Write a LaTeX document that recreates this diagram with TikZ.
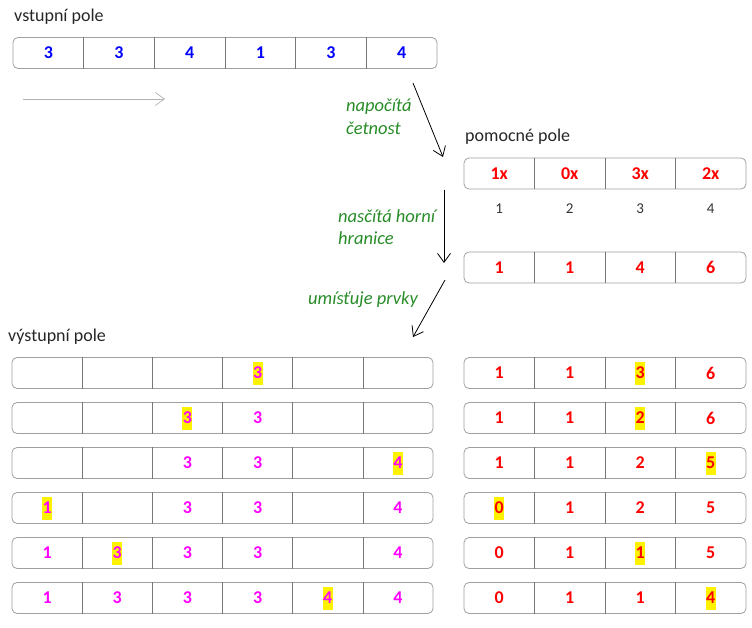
\documentclass[tikz,border=0pt]{standalone}
\usepackage{fontspec}
\setmainfont{Carlito}
\usetikzlibrary{arrows.meta}

\definecolor{zelena}{RGB}{40,140,40}
\definecolor{ramecek}{RGB}{160,160,160}
\definecolor{predel}{RGB}{120,120,120}
\definecolor{fialova}{RGB}{255,0,255}

\begin{document}
\begin{tikzpicture}[x=1pt, y=-1pt,
    pole/.style={draw=ramecek, rounded corners=5pt, line width=.8pt, minimum height=31pt, inner sep=0pt},
    cislo/.style={font=\fontsize{18}{18}\selectfont\bfseries, inner sep=0pt},
    index/.style={font=\fontsize{15}{15}\selectfont, text=black!80, inner sep=0pt},
    popis/.style={font=\fontsize{18}{20}\selectfont, text=black!85, anchor=west, inner sep=0pt},
    akce/.style={font=\fontsize{18.5}{20}\selectfont\itshape, text=zelena, anchor=west, inner sep=0pt},
    sipka/.style={-{Straight Barb[length=9pt,width=13pt]}, line width=.8pt},
    zvyr/.style={fill=yellow, minimum width=10pt, minimum height=23pt, inner sep=0pt}]

\useasboundingbox (0,0) rectangle (752,628);

% vstupni pole
\node[popis] (lvst) at (14,17) {vstupní pole};
\node[pole, minimum width=424pt] (vst) at (225,53) {};
\foreach \i in {1,...,5}
    \draw[predel] (13+70.67*\i,37) -- (13+70.67*\i,69);
\foreach \v [count=\i] in {3,3,4,1,3,4}
    \node[cislo, text=blue] (v\i) at (13+70.67*\i-35.33,53) {\v};

\coordinate (smer1) at (23,99);
\coordinate (smer2) at (165,99);
\draw[sipka, gray!60, line width=.7pt] (smer1) -- (smer2);

% pomocne pole - cetnosti
\node[popis] (lpom) at (465,137) {pomocné pole};
\node[pole, minimum width=282pt] (pom) at (605,173.5) {};
\foreach \i in {1,...,3}
    \draw[predel] (464+70.5*\i,158) -- (464+70.5*\i,189);
\foreach \v [count=\i] in {1x,0x,3x,2x} {
    \node[cislo, text=red] (p\i) at (464+70.5*\i-35.25,173.5) {\v};
    \node[index] (ix\i) at (464+70.5*\i-35.25,209) {\i};}

% pomocne pole - horni hranice
\node[pole, minimum width=282pt] (hr) at (605,267.5) {};
\foreach \i in {1,...,3}
    \draw[predel] (464+70.5*\i,252) -- (464+70.5*\i,283);
\foreach \v [count=\i] in {1,1,4,6}
    \node[cislo, text=red] (h\i) at (464+70.5*\i-35.25,267.5) {\v};

% sipky mezi kroky
\coordinate (a1) at (413,83);
\coordinate (b1) at (443,157);
\coordinate (a2) at (444,190);
\coordinate (b2) at (444,263);
\coordinate (a3) at (445,280);
\coordinate (b3) at (413,337);
\draw[sipka] (a1) -- (b1);
\draw[sipka] (a2) -- (b2);
\draw[sipka] (a3) -- (b3);
\node[akce] (k1) at (346,107) {napočítá};
\node[akce] (k1b) at (346,128) {četnost};
\node[akce] (k2) at (338,216) {nasčítá horní};
\node[akce] (k2b) at (338,238) {hranice};
\node[akce] (k3) at (308,300) {umísťuje prvky};

% vystupni pole a pomocne pole po krocich
\node[popis] (lvys) at (8,337) {výstupní pole};
\foreach \r in {1,...,6} {
    \node[pole, minimum width=421pt] (out\r) at (222.5,373+45*\r-45) {};
    \foreach \c in {1,...,5}
        \draw[predel] (12+70.17*\c,357+45*\r-45) -- (12+70.17*\c,389+45*\r-45);
    \node[pole, minimum width=282pt] (pp\r) at (605,373+45*\r-45) {};
    \foreach \c in {1,...,3}
        \draw[predel] (464+70.5*\c,357+45*\r-45) -- (464+70.5*\c,389+45*\r-45);
}

% zvyraznene prvky
\foreach \r/\c in {1/4,2/3,3/6,4/1,5/2,6/5}
    \node[zvyr] (zo\r) at (12+70.17*\c-35.08,373+45*\r-45) {};
\foreach \r/\c in {1/3,2/3,3/4,4/1,5/3,6/4}
    \node[zvyr] (zp\r) at (464+70.5*\c-35.25,373+45*\r-45) {};

\foreach \r/\c/\v in {1/4/3, 2/3/3,2/4/3, 3/3/3,3/4/3,3/6/4,
        4/1/1,4/3/3,4/4/3,4/6/4, 5/1/1,5/2/3,5/3/3,5/4/3,5/6/4,
        6/1/1,6/2/3,6/3/3,6/4/3,6/5/4,6/6/4}
    \node[cislo, text=fialova] (o\r-\c) at (12+70.17*\c-35.08,373+45*\r-45) {\v};

\foreach \r/\a/\b/\cc/\d in {1/1/1/3/6, 2/1/1/2/6, 3/1/1/2/5, 4/0/1/2/5, 5/0/1/1/5, 6/0/1/1/4} {
    \node[cislo, text=red] (q\r-1) at (499.25,373+45*\r-45) {\a};
    \node[cislo, text=red] (q\r-2) at (569.75,373+45*\r-45) {\b};
    \node[cislo, text=red] (q\r-3) at (640.25,373+45*\r-45) {\cc};
    \node[cislo, text=red] (q\r-4) at (710.75,373+45*\r-45) {\d};}

\end{tikzpicture}
\end{document}
